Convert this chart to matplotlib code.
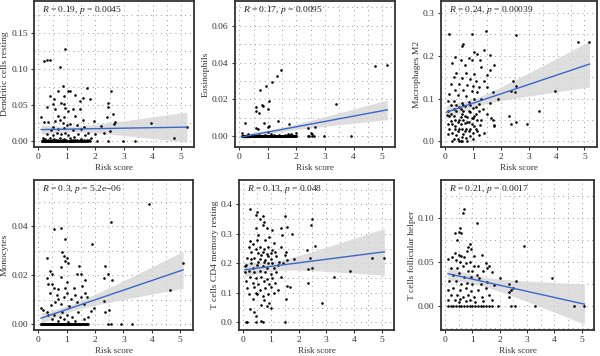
import numpy as np
import matplotlib
matplotlib.use("Agg")
import matplotlib.pyplot as plt
from matplotlib.ticker import AutoMinorLocator, FormatStrFormatter, MultipleLocator

plt.rcParams['font.family'] = ['Liberation Serif', 'DejaVu Serif']
plt.rcParams['mathtext.fontset'] = 'custom'
plt.rcParams['mathtext.it'] = 'Liberation Serif:italic'
plt.rcParams['mathtext.rm'] = 'Liberation Serif'

# ---- data (risk score, cell fraction) ----
dc_pts = [(0.2, 0.111), (0.3, 0.112), (0.4, 0.113), (0.95, 0.127), (0.75, 0.102),
          (0.85, 0.077), (0.7, 0.069), (1.05, 0.070), (1.1, 0.069), (0.4, 0.062),
          (0.55, 0.058), (0.9, 0.063), (1.3, 0.064), (1.7, 0.074), (2.55, 0.069),
          (1.55, 0.060), (1.45, 0.055), (1.8, 0.059), (0.8, 0.053), (0.9, 0.052),
          (0.95, 0.046), (0.3, 0.047), (0.5, 0.051), (0.6, 0.045), (1.2, 0.044),
          (1.05, 0.042), (0.1, 0.034), (0.7, 0.035), (0.9, 0.034), (1.45, 0.045),
          (1.3, 0.035), (1.55, 0.029), (2.45, 0.053), (2.45, 0.047), (2.6, 0.037),
          (2.4, 0.034), (0.2, 0.026), (0.35, 0.027), (0.6, 0.028), (0.75, 0.030),
          (0.85, 0.025), (1.0, 0.022), (1.1, 0.024), (1.35, 0.022), (1.6, 0.020),
          (0.5, 0.019), (0.45, 0.015), (0.7, 0.017), (0.9, 0.018), (1.2, 0.015),
          (1.5, 0.017), (1.75, 0.012), (1.95, 0.028), (2.0, 0.010), (2.3, 0.012),
          (2.7, 0.027), (2.5, 0.014), (0.3, 0.010), (0.5, 0.008), (0.65, 0.011),
          (0.8, 0.010), (0.95, 0.012), (1.05, 0.008), (1.25, 0.006), (1.4, 0.010),
          (1.65, 0.008), (1.85, 0.004), (0.15, 0.005), (0.25, 0.003), (0.4, 0.004),
          (0.55, 0.003), (0.75, 0.004), (0.9, 0.003), (1.1, 0.004), (1.3, 0.002),
          (1.5, 0.003), (1.7, 0.002), (3.95, 0.025), (4.75, 0.005), (5.2, 0.019),
          (2.45, 0.0), (2.95, 0.0), (3.4, 0.0), (2.05, 0.0),
          (0.18, 0.001), (0.33, 0.002), (0.47, 0.001), (0.62, 0.002), (0.68, 0.001),
          (0.83, 0.001), (0.97, 0.002), (1.15, 0.001), (1.2, 0.002), (1.35, 0.001),
          (1.45, 0.001), (1.6, 0.001), (1.78, 0.001), (2.2, 0.021), (2.65, 0.024)]
dc_zero_x = [0.12, 0.14, 0.16, 0.18, 0.2, 0.22, 0.24, 0.26, 0.28, 0.31, 0.33, 0.35,
             0.37, 0.38, 0.4, 0.42, 0.44, 0.46, 0.47, 0.5, 0.52, 0.54, 0.56, 0.58,
             0.6, 0.61, 0.63, 0.65, 0.66, 0.68, 0.7, 0.72, 0.74, 0.76, 0.78, 0.8,
             0.83, 0.86, 0.88, 0.91, 0.93, 0.95, 0.98, 1.0, 1.02, 1.06, 1.08, 1.1,
             1.13, 1.15, 1.18, 1.21, 1.23, 1.25, 1.29, 1.32, 1.35, 1.38, 1.41, 1.45,
             1.48, 1.52, 1.55, 1.58, 1.62, 1.65, 1.68, 1.72, 1.75, 1.8]

eos_pts = [(1.47, 0.036), (1.32, 0.0326), (1.15, 0.0293), (0.92, 0.0275), (0.74, 0.025),
           (1.03, 0.019), (1.0, 0.015), (0.6, 0.016), (0.6, 0.014), (0.7, 0.0125),
           (0.8, 0.017), (0.82, 0.0165), (0.85, 0.0075), (1.35, 0.0085), (1.05, 0.0058),
           (1.0, 0.005), (0.6, 0.0045), (0.65, 0.004), (0.2, 0.0073), (0.1, 0.002),
           (1.75, 0.0065), (1.0, 0.0025), (1.1, 0.001), (1.8, 0.0015), (1.7, 0.001),
           (2.4, 0.0045), (2.65, 0.005), (2.5, 0.002), (2.55, 0.0015), (3.4, 0.0175),
           (4.75, 0.038), (5.18, 0.0385), (2.0, 0.002), (0.45, 0.0005), (0.3, 0.001),
           (1.75, 0.0005), (2.4, 0.0), (2.45, 0.0), (2.55, 0.0), (2.6, 0.0),
           (2.95, 0.0), (3.9, 0.0),
           (0.5, 0.0008), (0.7, 0.0005), (0.9, 0.0007), (1.2, 0.0005), (1.4, 0.0008),
           (1.6, 0.0006), (0.35, 0.0004), (1.85, 0.0009)]
eos_zero_x = [0.1, 0.11, 0.12, 0.13, 0.14, 0.15, 0.16, 0.17, 0.19, 0.2, 0.21, 0.22,
              0.23, 0.24, 0.25, 0.26, 0.27, 0.29, 0.3, 0.31, 0.32, 0.33, 0.34, 0.35,
              0.36, 0.37, 0.39, 0.4, 0.41, 0.42, 0.43, 0.44, 0.45, 0.46, 0.47, 0.49,
              0.5, 0.51, 0.52, 0.53, 0.54, 0.55, 0.56, 0.57, 0.59, 0.6, 0.61, 0.62,
              0.64, 0.65, 0.66, 0.67, 0.69, 0.7, 0.72, 0.74, 0.75, 0.77, 0.8, 0.82,
              0.84, 0.85, 0.87, 0.9, 0.92, 0.94, 0.95, 0.97, 1.0, 1.02, 1.04, 1.05,
              1.07, 1.1, 1.12, 1.14, 1.15, 1.17, 1.2, 1.22, 1.24, 1.25, 1.27, 1.3,
              1.32, 1.34, 1.35, 1.37, 1.4, 1.42, 1.44, 1.45, 1.47, 1.5, 1.52, 1.54,
              1.55, 1.57, 1.6, 1.62, 1.64, 1.65, 1.67, 1.7, 1.72, 1.74, 1.75, 1.77,
              1.8, 1.82, 1.85, 1.87, 1.9, 1.92, 1.95, 1.97, 2.0]

mac_pts = [(0.13, 0.25), (0.95, 0.252), (1.45, 0.258), (2.55, 0.248), (0.65, 0.228),
           (0.6, 0.223), (1.4, 0.213), (1.05, 0.208), (1.15, 0.205), (1.6, 0.203),
           (0.35, 0.198), (0.85, 0.196), (0.95, 0.19), (1.25, 0.19), (1.75, 0.178),
           (0.55, 0.19), (0.25, 0.183), (0.7, 0.178), (1.3, 0.175), (1.6, 0.168),
           (0.4, 0.16), (0.75, 0.16), (1.05, 0.158), (1.5, 0.155), (0.3, 0.15),
           (0.6, 0.148), (0.9, 0.145), (1.1, 0.14), (1.4, 0.14), (0.2, 0.135),
           (0.5, 0.135), (0.8, 0.132), (1.0, 0.13), (1.2, 0.128), (1.5, 0.128),
           (2.45, 0.14), (2.55, 0.13), (2.35, 0.118), (2.5, 0.115), (0.35, 0.12),
           (0.65, 0.12), (0.95, 0.118), (1.15, 0.115), (1.7, 0.115), (0.15, 0.11),
           (0.45, 0.108), (0.75, 0.105), (1.05, 0.1), (1.3, 0.1), (1.9, 0.1),
           (0.1, 0.095), (0.3, 0.095), (0.6, 0.09), (0.85, 0.092), (1.2, 0.088),
           (1.6, 0.09), (0.2, 0.085), (0.5, 0.08), (0.7, 0.082), (1.0, 0.078),
           (1.35, 0.075), (0.1, 0.072), (0.4, 0.07), (0.65, 0.07), (0.9, 0.068),
           (1.1, 0.065), (1.5, 0.065), (0.3, 0.06), (0.55, 0.058), (0.8, 0.058),
           (1.0, 0.055), (1.3, 0.05), (1.7, 0.05), (2.3, 0.06), (2.55, 0.045),
           (2.35, 0.04), (2.95, 0.04), (3.35, 0.07), (3.95, 0.118), (4.75, 0.232),
           (5.18, 0.233), (0.2, 0.048), (0.45, 0.045), (0.7, 0.042), (0.95, 0.04),
           (1.25, 0.038), (1.75, 0.035), (0.15, 0.03), (0.35, 0.028), (0.6, 0.03),
           (0.85, 0.025), (1.1, 0.028), (1.4, 0.02), (0.1, 0.018), (0.4, 0.015),
           (0.65, 0.018), (0.9, 0.012), (1.2, 0.015), (0.3, 0.005), (0.5, 0.002),
           (0.55, 0.0), (0.6, 0.0), (0.75, 0.008), (1.0, 0.005), (0.25, 0.0),
           (1.75, 0.038), (1.65, 0.055), (0.05, 0.062), (0.1, 0.04),
           (0.25, 0.02), (0.35, 0.035), (0.45, 0.025), (0.5, 0.05), (0.55, 0.04),
           (0.7, 0.06), (0.75, 0.03), (0.8, 0.045), (0.85, 0.07), (0.95, 0.055),
           (1.05, 0.035), (1.15, 0.05), (1.2, 0.07), (0.4, 0.085), (0.6, 0.065),
           (0.9, 0.085), (0.3, 0.075), (0.65, 0.05), (1.0, 0.02), (0.45, 0.005),
           (0.6, 0.01), (0.8, 0.0), (1.1, 0.08), (0.15, 0.06), (0.35, 0.05),
           (0.2, 0.065), (0.5, 0.03), (0.55, 0.075), (0.7, 0.025), (0.85, 0.045),
           (0.9, 0.03), (1.05, 0.06), (0.25, 0.04), (0.65, 0.085), (1.15, 0.025)]
mac_zero_x = []

mono_pts = [(3.9, 0.049), (2.55, 0.042), (0.55, 0.039), (0.8, 0.0395), (0.95, 0.035),
            (1.9, 0.033), (0.85, 0.0295), (0.9, 0.028), (1.0, 0.027), (1.05, 0.025),
            (0.95, 0.026), (0.3, 0.027), (0.8, 0.0235), (0.4, 0.022), (0.5, 0.0205),
            (1.45, 0.024), (2.35, 0.024), (1.35, 0.0205), (1.5, 0.0205), (0.3, 0.019),
            (0.8, 0.0195), (0.35, 0.0165), (0.5, 0.0165), (1.0, 0.0175), (1.65, 0.018),
            (2.6, 0.018), (2.3, 0.019), (2.45, 0.0205), (0.7, 0.0145), (0.55, 0.015),
            (0.95, 0.015), (1.25, 0.015), (1.55, 0.0155), (0.4, 0.013), (0.65, 0.012),
            (1.0, 0.013), (1.3, 0.012), (1.65, 0.013), (0.7, 0.0105), (0.9, 0.011),
            (1.15, 0.0105), (1.5, 0.011), (1.7, 0.011), (0.1, 0.0065), (0.15, 0.006),
            (0.3, 0.005), (0.45, 0.008), (0.6, 0.009), (0.8, 0.0085), (1.1, 0.0075),
            (1.35, 0.009), (1.6, 0.0085), (2.3, 0.0095), (1.95, 0.0065), (0.35, 0.004),
            (0.55, 0.004), (0.75, 0.003), (0.85, 0.005), (1.0, 0.004), (1.2, 0.003),
            (1.4, 0.005), (1.75, 0.003), (1.85, 0.0055), (2.35, 0.005), (2.5, 0.006),
            (0.5, 0.002), (0.7, 0.0015), (0.9, 0.002), (1.05, 0.001), (1.3, 0.0015),
            (1.6, 0.002), (4.65, 0.014), (5.1, 0.025), (2.45, 0.0), (2.55, 0.0),
            (2.9, 0.0), (3.3, 0.0)]
mono_zero_x = [0.1, 0.11, 0.12, 0.13, 0.14, 0.15, 0.16, 0.17, 0.19, 0.2, 0.21, 0.22,
               0.23, 0.24, 0.25, 0.26, 0.27, 0.29, 0.3, 0.31, 0.32, 0.33, 0.34, 0.35,
               0.36, 0.37, 0.39, 0.4, 0.41, 0.42, 0.43, 0.45, 0.46, 0.47, 0.49, 0.5,
               0.51, 0.52, 0.53, 0.55, 0.56, 0.57, 0.59, 0.6, 0.61, 0.62, 0.63, 0.65,
               0.66, 0.67, 0.69, 0.7, 0.72, 0.73, 0.75, 0.77, 0.8, 0.82, 0.83, 0.85,
               0.87, 0.9, 0.92, 0.93, 0.95, 0.97, 1.0, 1.02, 1.03, 1.05, 1.07, 1.1,
               1.12, 1.13, 1.15, 1.17, 1.2, 1.22, 1.25, 1.27, 1.3, 1.32, 1.35, 1.37,
               1.4, 1.42, 1.45, 1.47, 1.5, 1.52, 1.55, 1.57, 1.6, 1.62, 1.65, 1.67,
               1.7, 1.72, 1.75]

cd4_pts = [(0.25, 0.385), (0.5, 0.375), (0.45, 0.365), (0.7, 0.36), (0.6, 0.35),
           (0.75, 0.34), (0.7, 0.33), (0.45, 0.32), (0.85, 0.32), (1.05, 0.315),
           (1.35, 0.32), (1.5, 0.36), (1.6, 0.325), (1.75, 0.3), (2.5, 0.35),
           (2.45, 0.33), (2.6, 0.26), (0.25, 0.275), (0.35, 0.265), (0.5, 0.28),
           (0.55, 0.295), (0.8, 0.28), (0.95, 0.29), (1.1, 0.27), (1.4, 0.295),
           (0.2, 0.255), (0.45, 0.25), (0.6, 0.255), (0.75, 0.248), (0.9, 0.255),
           (1.05, 0.245), (1.35, 0.255), (1.55, 0.24), (2.3, 0.245), (0.3, 0.24),
           (0.55, 0.235), (0.7, 0.24), (0.85, 0.232), (1.0, 0.235), (1.2, 0.225),
           (1.5, 0.23), (1.6, 0.21), (0.15, 0.22), (0.4, 0.22), (0.6, 0.215),
           (0.8, 0.21), (1.0, 0.215), (1.3, 0.205), (1.85, 0.215), (2.4, 0.22),
           (2.5, 0.185), (0.1, 0.195), (0.3, 0.2), (0.5, 0.195), (0.7, 0.19),
           (0.9, 0.2), (1.1, 0.185), (1.45, 0.2), (0.05, 0.17), (0.2, 0.175),
           (0.4, 0.17), (0.6, 0.175), (0.8, 0.17), (1.0, 0.165), (1.2, 0.17),
           (2.35, 0.18), (0.25, 0.155), (0.45, 0.15), (0.65, 0.155), (0.85, 0.148),
           (1.05, 0.15), (1.35, 0.155), (0.1, 0.14), (0.35, 0.135), (0.55, 0.13),
           (0.75, 0.14), (0.95, 0.13), (1.15, 0.135), (1.6, 0.125), (1.7, 0.12),
           (2.35, 0.135), (0.15, 0.115), (0.4, 0.12), (0.6, 0.11), (0.8, 0.115),
           (1.0, 0.12), (1.25, 0.11), (0.2, 0.095), (0.45, 0.1), (0.7, 0.09),
           (0.9, 0.095), (1.1, 0.1), (1.55, 0.08), (0.35, 0.08), (0.5, 0.095),
           (0.75, 0.075), (0.95, 0.065), (1.0, 0.05), (0.85, 0.055), (0.25, 0.045),
           (0.4, 0.035), (0.45, 0.02), (0.65, 0.005), (0.7, 0.0), (0.1, 0.0),
           (0.15, 0.002), (0.45, 0.0), (1.5, 0.0), (2.85, 0.065), (3.3, 0.155),
           (3.85, 0.173), (4.65, 0.22), (5.1, 0.22), (0.05, 0.19), (0.65, 0.06),
           (0.3, 0.215), (0.65, 0.23), (0.9, 0.225), (1.15, 0.24), (0.55, 0.205),
           (1.25, 0.195), (0.85, 0.185), (0.35, 0.185), (1.05, 0.2), (0.75, 0.205)]
cd4_zero_x = []

tfh_pts = [(0.7, 0.11), (0.65, 0.105), (1.15, 0.094), (0.55, 0.088), (0.5, 0.084),
           (0.6, 0.083), (0.35, 0.083), (0.45, 0.075), (0.9, 0.07), (0.85, 0.067),
           (0.95, 0.064), (0.8, 0.062), (0.35, 0.06), (0.5, 0.058), (0.6, 0.057),
           (0.7, 0.055), (1.05, 0.056), (1.35, 0.058), (0.25, 0.055), (0.1, 0.053),
           (0.4, 0.052), (0.55, 0.05), (0.75, 0.048), (0.9, 0.05), (1.05, 0.045),
           (1.2, 0.045), (1.5, 0.048), (1.55, 0.043), (0.2, 0.043), (0.45, 0.043),
           (0.65, 0.045), (0.85, 0.04), (1.0, 0.04), (1.15, 0.035), (1.4, 0.04),
           (1.6, 0.045), (0.3, 0.035), (0.5, 0.037), (0.7, 0.033), (0.95, 0.033),
           (1.25, 0.032), (1.7, 0.038), (2.0, 0.031), (2.9, 0.068), (3.9, 0.032),
           (2.6, 0.028), (0.15, 0.028), (0.4, 0.028), (0.6, 0.025), (0.8, 0.026),
           (1.0, 0.025), (1.3, 0.025), (1.55, 0.027), (1.8, 0.024), (2.35, 0.025),
           (0.1, 0.018), (0.3, 0.02), (0.55, 0.018), (0.75, 0.02), (0.95, 0.017),
           (1.2, 0.018), (1.5, 0.02), (2.4, 0.018), (0.2, 0.012), (0.45, 0.012),
           (0.65, 0.01), (0.85, 0.012), (1.05, 0.01), (1.35, 0.01), (1.6, 0.012),
           (2.5, 0.02), (0.35, 0.006), (0.5, 0.004), (0.75, 0.005), (0.9, 0.007),
           (1.1, 0.004), (1.4, 0.005), (1.7, 0.006), (2.35, 0.015), (0.1, 0.007),
           (0.55, 0.008), (2.35, 0.01), (3.3, 0.0), (4.7, 0.0), (5.1, 0.0),
           (2.55, 0.0), (2.4, 0.0), (1.95, 0.0), (1.7, 0.0), (1.6, 0.0)]
tfh_zero_x = [0.1, 0.2, 0.3, 0.4, 0.5, 0.6, 0.7, 0.8, 0.9, 1.0, 1.1, 1.2, 1.3, 1.4, 1.5]

cell_names = ['Dendritic cells resting', 'Eosinophils', 'Macrophages M2',
              'Monocytes', 'T cells CD4 memory resting', 'T cells follicular helper']
r_labels = ['0.19', '0.17', '0.24', '0.3', '0.13', '0.21']
p_labels = ['0.0045', '0.0095', '0.00039', '5.2e\u221206', '0.048', '0.0017']
all_pts = [dc_pts, eos_pts, mac_pts, mono_pts, cd4_pts, tfh_pts]
all_zero = [dc_zero_x, eos_zero_x, mac_zero_x, mono_zero_x, cd4_zero_x, tfh_zero_x]

# ---- layout / styling ----
W, H = 600, 356
boxes = [(34, 1, 194, 147), (235, 1, 395, 147), (441, 1, 597, 147),
         (34, 180, 193, 330), (239, 180, 394, 330), (441, 180, 594, 330)]
ylims = [(-0.008, 0.194), (-0.0058, 0.0735), (-0.013, 0.328),
         (-0.0023, 0.059), (-0.026, 0.483), (-0.0277, 0.143)]
ysteps = [0.05, 0.02, 0.1, 0.02, 0.1, 0.05]
yfmts = ['%.2f', '%.2f', '%.1f', '%.2f', '%.1f', '%.2f']

fig = plt.figure(figsize=(W / 100, H / 100), dpi=100)

for i in range(6):
    l, t, r, b = boxes[i]
    ax = fig.add_axes([l / W, 1 - b / H, (r - l) / W, (b - t) / H])
    pts = all_pts[i]
    x = np.array([p[0] for p in pts] + all_zero[i])
    y = np.array([p[1] for p in pts] + [0.0] * len(all_zero[i]))

    # linear fit with 95% confidence band
    n = len(x)
    slope, icept = np.polyfit(x, y, 1)
    resid = y - (icept + slope * x)
    s = np.sqrt(np.sum(resid ** 2) / (n - 2))
    xm = x.mean()
    sxx = np.sum((x - xm) ** 2)
    xg = np.linspace(x.min(), x.max(), 100)
    yg = icept + slope * xg
    se = s * np.sqrt(1 / n + (xg - xm) ** 2 / sxx)
    ax.fill_between(xg, yg - 1.97 * se, yg + 1.97 * se, color='#d4d4d4', alpha=0.75,
                    lw=0, zorder=2)
    ax.scatter(x, y, s=3.5, color='black', lw=0, zorder=3)
    ax.plot(xg, yg, color='#3a66c8', lw=1.0, zorder=4)

    ax.set_xlim(-0.15, 5.45)
    ax.set_ylim(*ylims[i])
    ax.xaxis.set_major_locator(MultipleLocator(1))
    ax.xaxis.set_minor_locator(AutoMinorLocator(2))
    ax.yaxis.set_major_locator(MultipleLocator(ysteps[i]))
    ax.yaxis.set_minor_locator(AutoMinorLocator(2))
    ax.yaxis.set_major_formatter(FormatStrFormatter(yfmts[i]))
    ax.grid(which='both', linestyle=(0, (1, 4)), color='#9a9a9a', lw=0.7, zorder=0)
    ax.set_axisbelow(True)
    for sp in ax.spines.values():
        sp.set_linewidth(1.3)
        sp.set_color('#333333')
    ax.tick_params(which='major', length=2, width=0.8, color='#333333',
                   labelsize=6.8, labelcolor='#333333', pad=2.5)
    ax.tick_params(which='minor', length=0)
    ax.set_xlabel('Risk score', fontsize=6.5, color='#333333', labelpad=2)
    ax.set_ylabel(cell_names[i], fontsize=6.8, color='#333333', labelpad=1.5)
    ax.text(0.05, 0.94, '$R$ = ' + r_labels[i] + ', $p$ = ' + p_labels[i],
            transform=ax.transAxes, fontsize=6.8, color='#222222', va='center',
            zorder=5)

fig.savefig('out.png', dpi=100)
